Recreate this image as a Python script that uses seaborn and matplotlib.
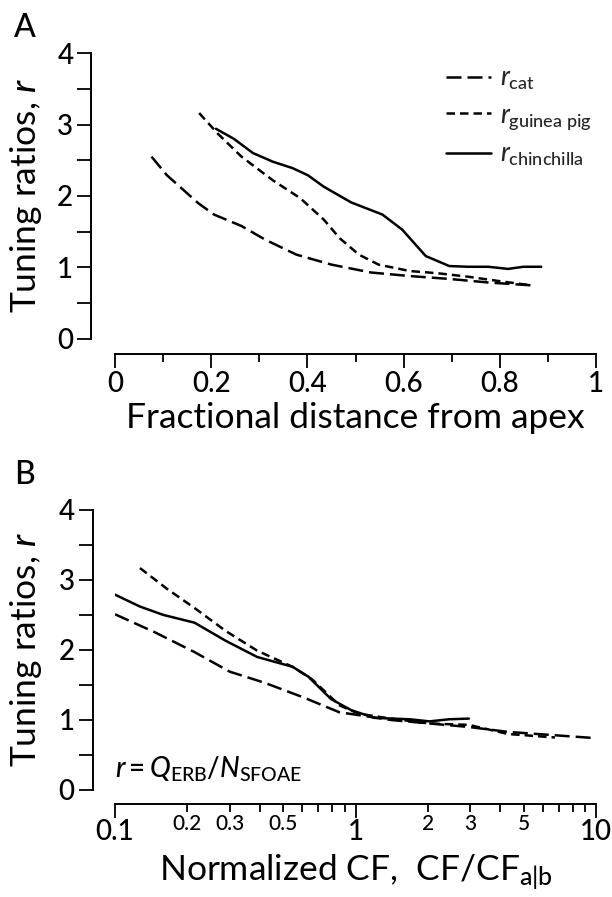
import numpy as np
import pandas as pd
import matplotlib
matplotlib.use("Agg")
import matplotlib.pyplot as plt
import seaborn as sns
from matplotlib.ticker import FixedLocator, FixedFormatter

sns.set_theme(style="ticks")
FONT = "Lato"
plt.rcParams["font.family"] = [FONT, "DejaVu Sans"]
plt.rcParams["font.weight"] = "medium"
plt.rcParams["mathtext.fontset"] = "custom"
plt.rcParams["mathtext.rm"] = FONT
plt.rcParams["mathtext.it"] = FONT + ":italic"
plt.rcParams["mathtext.default"] = "rm"

# ---------------- Panel A data (fractional distance from apex) ----------------
cat_xA = [0.076, 0.108, 0.173, 0.206, 0.263, 0.312, 0.377, 0.45, 0.532, 0.613, 0.695, 0.776, 0.866]
cat_yA = [2.55, 2.29, 1.90, 1.74, 1.58, 1.39, 1.18, 1.04, 0.93, 0.88, 0.84, 0.79, 0.75]
gp_xA = [0.175, 0.214, 0.263, 0.328, 0.385, 0.434, 0.467, 0.507, 0.548, 0.613, 0.67, 0.735, 0.809, 0.866]
gp_yA = [3.16, 2.87, 2.55, 2.22, 1.97, 1.67, 1.41, 1.18, 1.04, 0.95, 0.92, 0.87, 0.80, 0.75]
ch_xA = [0.21, 0.247, 0.287, 0.328, 0.369, 0.401, 0.434, 0.491, 0.556, 0.597, 0.646, 0.695, 0.735, 0.776, 0.817, 0.849, 0.886]
ch_yA = [2.94, 2.80, 2.60, 2.48, 2.39, 2.29, 2.13, 1.91, 1.74, 1.53, 1.16, 1.02, 1.01, 1.01, 0.98, 1.01, 1.01]

# ---------------- Panel B data (normalized CF) ----------------
cat_xB = [0.1, 0.147, 0.214, 0.30, 0.42, 0.61, 0.857, 1.03, 1.40, 2.03, 2.96, 4.30, 6.25, 10.0]
cat_yB = [2.51, 2.25, 1.97, 1.69, 1.53, 1.32, 1.11, 1.07, 1.00, 0.95, 0.90, 0.83, 0.79, 0.74]
gp_xB = [0.127, 0.165, 0.214, 0.289, 0.39, 0.547, 0.66, 0.857, 1.03, 1.40, 2.03, 2.96, 4.30, 6.75]
gp_yB = [3.17, 2.87, 2.60, 2.27, 1.99, 1.76, 1.58, 1.21, 1.09, 1.02, 0.95, 0.93, 0.80, 0.75]
ch_xB = [0.1, 0.127, 0.159, 0.214, 0.289, 0.39, 0.547, 0.636, 0.79, 0.96, 1.2, 1.68, 2.03, 2.45, 2.96]
ch_yB = [2.79, 2.62, 2.50, 2.39, 2.13, 1.90, 1.76, 1.62, 1.30, 1.14, 1.03, 1.01, 0.98, 1.01, 1.02]

species = ["cat", "guinea pig", "chinchilla"]
legend_labels = [r"$\it{r}_{\mathrm{cat}}$", r"$\it{r}_{\mathrm{guinea\ pig}}$", r"$\it{r}_{\mathrm{chinchilla}}$"]

yticks = [0, 1, 2, 3, 4]
xticksA = [0, 0.2, 0.4, 0.6, 0.8, 1]
xticksA_labels = ["0", "0.2", "0.4", "0.6", "0.8", "1"]
xmajB = [0.1, 1, 10]
xmajB_labels = ["0.1", "1", "10"]
xminB = [0.2, 0.3, 0.4, 0.5, 0.6, 0.7, 0.8, 0.9, 2, 3, 4, 5, 6, 7, 8, 9]
xminB_labels = ["0.2", "0.3", "", "0.5", "", "", "", "", "2", "3", "", "5", "", "", "", ""]


def long_df(xs, ys):
    rows = []
    for sp, x, y in zip(species, xs, ys):
        for xi, yi in zip(x, y):
            rows.append((sp, xi, yi))
    return pd.DataFrame(rows, columns=["species", "x", "r"])


dfA = long_df([cat_xA, gp_xA, ch_xA], [cat_yA, gp_yA, ch_yA])
dfB = long_df([cat_xB, gp_xB, ch_xB], [cat_yB, gp_yB, ch_yB])

LW = 1.8
dash_map = {"cat": (6.0, 2.4), "guinea pig": (3.4, 2.0), "chinchilla": ""}

fig = plt.figure(figsize=(6.12, 8.97), dpi=100)
fig.patch.set_facecolor("white")
axA = fig.add_axes([0.1879, 0.6221, 0.786, 0.3188])
axB = fig.add_axes([0.1879, 0.1193, 0.786, 0.3122])

for ax, df, loff, boff in [(axA, dfA, 17, 10.8), (axB, dfB, 16, 10)]:
    sns.lineplot(data=df, x="x", y="r", style="species", style_order=species,
                 dashes=dash_map, color="black", linewidth=LW, sort=False,
                 estimator=None, ax=ax, legend=(ax is axA))
    ax.set_facecolor("white")
    ax.set_ylim(0, 4)
    ax.spines["top"].set_visible(False)
    ax.spines["right"].set_visible(False)
    ax.spines["left"].set_position(("outward", loff))
    ax.spines["bottom"].set_position(("outward", boff))
    for s in ["left", "bottom"]:
        ax.spines[s].set_linewidth(1.4)
        ax.spines[s].set_color("black")
    ax.yaxis.set_major_locator(FixedLocator(yticks))
    ax.yaxis.set_minor_locator(FixedLocator([0.5, 1.5, 2.5, 3.5]))
    ax.set_yticklabels([str(t) for t in yticks])
    ax.tick_params(axis="y", which="both", direction="out", length=10, width=1.3,
                   color="black", labelsize=20, pad=3, labelcolor="black")
    ax.set_ylabel("Tuning ratios, $\\it{r}$", fontsize=25.5, color="black")
    ax.yaxis.set_label_coords(-0.148, 0.5)

# Panel A x-axis
axA.set_xlim(0, 1)
axA.xaxis.set_major_locator(FixedLocator(xticksA))
axA.xaxis.set_major_formatter(FixedFormatter(xticksA_labels))
axA.xaxis.set_minor_locator(FixedLocator([0.1, 0.3, 0.5, 0.7, 0.9]))
axA.tick_params(axis="x", which="major", direction="out", length=10, width=1.3,
                color="black", labelsize=20, pad=2, labelcolor="black")
axA.tick_params(axis="x", which="minor", direction="out", length=6, width=1.3,
                color="black")
axA.set_xlabel("Fractional distance from apex", fontsize=25.5, color="black")
axA.xaxis.set_label_coords(0.5, -0.22)

handles, _ = axA.get_legend_handles_labels()
axA.legend(handles, legend_labels, loc="upper left", bbox_to_anchor=(0.688, 0.955),
           frameon=False, fontsize=18.5, handlelength=1.75, handletextpad=0.35,
           labelspacing=0.4, borderaxespad=0.0, borderpad=0.0)

# Panel B x-axis
axB.set_xscale("log")
axB.set_xlim(0.1, 10)
axB.xaxis.set_major_locator(FixedLocator(xmajB))
axB.xaxis.set_major_formatter(FixedFormatter(xmajB_labels))
axB.xaxis.set_minor_locator(FixedLocator(xminB))
axB.xaxis.set_minor_formatter(FixedFormatter(xminB_labels))
axB.tick_params(axis="x", which="major", direction="out", length=10, width=1.3,
                color="black", labelsize=20, pad=1, labelcolor="black")
axB.tick_params(axis="x", which="minor", direction="out", length=5.5, width=1.3,
                color="black", labelsize=15, pad=1.5, labelcolor="black")
axB.set_xlabel(r"Normalized CF,  CF/CF$_{\mathrm{a|b}}$", fontsize=25.5, color="black")
axB.xaxis.set_label_coords(0.5, -0.225)

axB.text(0.0, 0.043, r"$\it{r} = \it{Q}_{\mathrm{ERB}}/\it{N}_{\mathrm{SFOAE}}$",
         transform=axB.transAxes, fontsize=20, ha="left", va="baseline", color="black")

fig.text(0.023, 0.969, "A", fontsize=23, ha="left", va="center", color="black")
fig.text(0.023, 0.470, "B", fontsize=23, ha="left", va="center", color="black")

fig.savefig("out.png", dpi=100, facecolor="white")
